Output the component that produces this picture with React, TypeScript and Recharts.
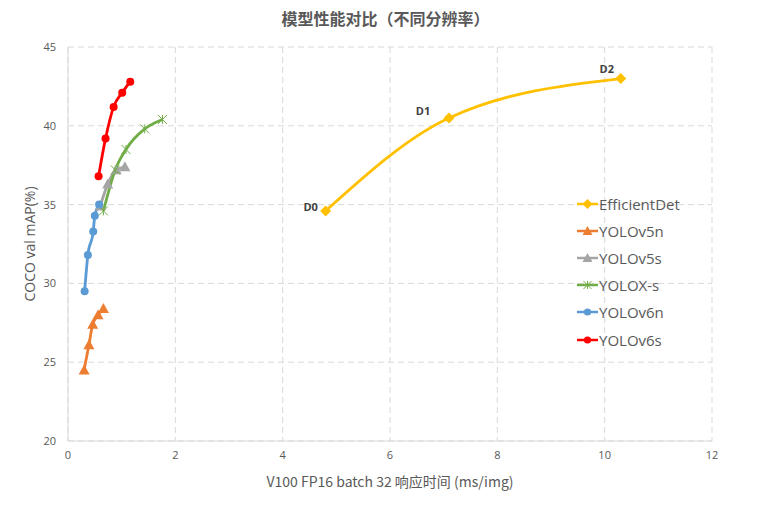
import React from "react";
import { ComposedChart, Line, XAxis, YAxis, CartesianGrid, LabelList, Label } from "recharts";

const effNames = ["D0", "D1", "D2"];
const effX = [4.8, 7.1, 10.3];
const effY = [34.6, 40.5, 43.0];

const v5nX = [0.3, 0.39, 0.46, 0.56, 0.66];
const v5nY = [24.5, 26.1, 27.4, 28.0, 28.4];

const v5sX = [0.6, 0.74, 0.9, 1.06];
const v5sY = [34.9, 36.3, 37.2, 37.4];

const yoloxX = [0.66, 0.88, 1.08, 1.43, 1.76];
const yoloxY = [34.6, 37.2, 38.5, 39.8, 40.4];

const v6nX = [0.31, 0.37, 0.47, 0.5, 0.58];
const v6nY = [29.5, 31.8, 33.3, 34.3, 35.0];

const v6sX = [0.57, 0.7, 0.85, 1.01, 1.16];
const v6sY = [36.8, 39.2, 41.2, 42.1, 42.8];

const xTicks = [0, 2, 4, 6, 8, 10, 12];
const yTicks = [20, 25, 30, 35, 40, 45];

const zip = (xs: number[], ys: number[], names?: string[]) =>
  xs.map((x, i) => ({ x, y: ys[i], name: names ? names[i] : undefined }));

type Shape = "diamond" | "triangle" | "star" | "circle";

const series = [
  { name: "EfficientDet", color: "#FFC000", shape: "diamond" as Shape, data: zip(effX, effY, effNames) },
  { name: "YOLOv5n", color: "#ED7D31", shape: "triangle" as Shape, data: zip(v5nX, v5nY) },
  { name: "YOLOv5s", color: "#A5A5A5", shape: "triangle" as Shape, data: zip(v5sX, v5sY) },
  { name: "YOLOX-s", color: "#70AD47", shape: "star" as Shape, data: zip(yoloxX, yoloxY) },
  { name: "YOLOv6n", color: "#5B9BD5", shape: "circle" as Shape, data: zip(v6nX, v6nY) },
  { name: "YOLOv6s", color: "#FF0000", shape: "circle" as Shape, data: zip(v6sX, v6sY) },
];

function Marker({ cx, cy, shape, color, s = 1 }: { cx: number; cy: number; shape: Shape; color: string; s?: number }) {
  if (shape === "diamond") {
    const r = 5.5 * s;
    return <path d={`M${cx},${cy - r}L${cx + r},${cy}L${cx},${cy + r}L${cx - r},${cy}Z`} fill={color} />;
  }
  if (shape === "triangle") {
    const r = 5.5 * s;
    return <path d={`M${cx},${cy - r}L${cx + r},${cy + r * 0.8}L${cx - r},${cy + r * 0.8}Z`} fill={color} />;
  }
  if (shape === "star") {
    const r = 4.5 * s;
    return (
      <g stroke={color} strokeWidth={1}>
        <line x1={cx - r} y1={cy - r} x2={cx + r} y2={cy + r} />
        <line x1={cx - r} y1={cy + r} x2={cx + r} y2={cy - r} />
        <line x1={cx} y1={cy - r} x2={cx} y2={cy + r} />
      </g>
    );
  }
  return <circle cx={cx} cy={cy} r={4 * s} fill={color} />;
}

const labelOffsets = [
  { dx: -15, dy: 0 },
  { dx: -26, dy: -3 },
  { dx: -14, dy: -6 },
];

const renderEffLabel = (props: any) => {
  const { x, y, value, index } = props;
  const o = labelOffsets[index] || { dx: -15, dy: -5 };
  return (
    <text
      x={x + o.dx}
      y={y + o.dy}
      textAnchor="middle"
      fontSize={11}
      fontWeight="bold"
      fill="#404040"
      fontFamily="'Open Sans', sans-serif"
    >
      {value}
    </text>
  );
};

const LegendBox = () => (
  <div
    style={{
      position: "absolute",
      left: 577,
      top: 190,
      fontFamily: "'Open Sans', sans-serif",
      fontSize: 15,
      color: "#595959",
    }}
  >
    {series.map((s) => (
      <div key={s.name} style={{ display: "flex", alignItems: "center", height: 27.2 }}>
        <svg width={21} height={14} style={{ marginRight: 1 }}>
          <line x1={0} y1={7} x2={21} y2={7} stroke={s.color} strokeWidth={2.5} />
          <Marker cx={10.5} cy={7} shape={s.shape} color={s.color} s={0.9} />
        </svg>
        <span>{s.name}</span>
      </div>
    ))}
  </div>
);

export default function App() {
  return (
    <div style={{ position: "absolute", left: 0, top: 0, width: 771, height: 515, background: "#fff" }}>
      <div
        style={{
          position: "absolute",
          left: 0,
          top: 6,
          width: 771,
          textAlign: "center",
          fontFamily: "'Noto Sans CJK SC', sans-serif",
          fontWeight: "bold",
          fontSize: 16,
          color: "#595959",
          lineHeight: "24px",
        }}
      >
        模型性能对比（不同分辨率）
      </div>
      <ComposedChart width={771} height={515} margin={{ top: 47, right: 59, bottom: 24, left: 10 }}>
        <CartesianGrid stroke="#d9d9d9" strokeDasharray="6 4" />
        <XAxis
          type="number"
          dataKey="x"
          domain={[0, 12]}
          ticks={xTicks}
          allowDuplicatedCategory={false}
          stroke="#d9d9d9"
          tickLine={false}
          tickSize={6}
          tickMargin={4}
          height={50}
          tick={{ fill: "#595959", fontSize: 11, fontFamily: "'Open Sans', sans-serif" }}
        >
          <Label
            value="V100 FP16 batch 32 响应时间 (ms/img)"
            position="insideBottom"
            offset={4}
            fill="#595959"
            fontSize={14}
            fontFamily="'Noto Sans CJK SC', sans-serif"
          />
        </XAxis>
        <YAxis
          type="number"
          dataKey="y"
          domain={[20, 45]}
          ticks={yTicks}
          stroke="#d9d9d9"
          tickLine={false}
          tickSize={6}
          tickMargin={6}
          width={58}
          tick={{ fill: "#595959", fontSize: 11, fontFamily: "'Open Sans', sans-serif" }}
        >
          <Label
            value="COCO val mAP(%)"
            angle={-90}
            position="insideLeft"
            offset={20}
            style={{ textAnchor: "middle" }}
            fill="#595959"
            fontSize={14}
            fontFamily="'Open Sans', sans-serif"
          />
        </YAxis>
        {series.map((s) => (
          <Line
            key={s.name}
            name={s.name}
            data={s.data}
            dataKey="y"
            type="monotone"
            stroke={s.color}
            strokeWidth={2.8}
            isAnimationActive={false}
            dot={(p: any) => (
              <Marker key={`${s.name}-${p.index}`} cx={p.cx} cy={p.cy} shape={s.shape} color={s.color} />
            )}
            activeDot={false}
          >
            {s.name === "EfficientDet" ? (
              <LabelList dataKey="name" content={renderEffLabel} />
            ) : null}
          </Line>
        ))}
      </ComposedChart>
      <LegendBox />
    </div>
  );
}
